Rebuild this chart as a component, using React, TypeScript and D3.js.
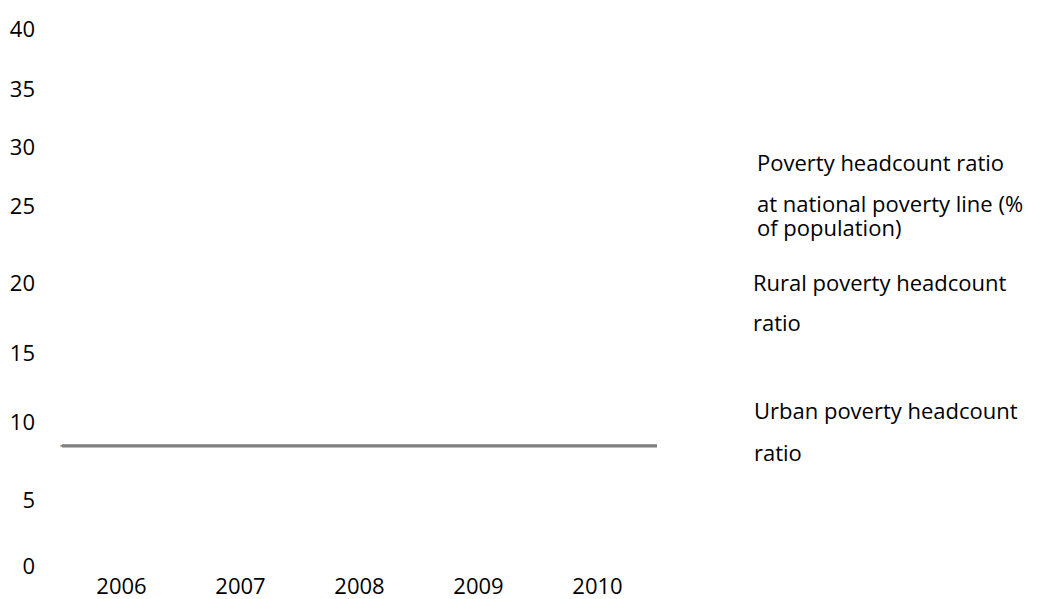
import * as d3 from "d3";

// poverty headcount chart, 2006-2010
// three series, all sitting on the same value so only the last one shows

const years = ["2006", "2007", "2008", "2009", "2010"];
const yTicks = [0, 5, 10, 15, 20, 25, 30, 35, 40];

const nationalValues = [8.4, 8.4, 8.4, 8.4, 8.4];
const ruralValues = [8.4, 8.4, 8.4, 8.4, 8.4];
const urbanValues = [8.4, 8.4, 8.4, 8.4, 8.4];

const legendNational = ["Poverty headcount ratio", "at national poverty line (%", "of population)"];
const legendRural = ["Rural poverty headcount", "ratio"];
const legendUrban = ["Urban poverty headcount", "ratio"];

const width = 1044;
const height = 599;
const font = "'Open Sans', sans-serif";
const fontSize = 22;

// the gridline spacing in the original isn't even, so the y scale is piecewise
const yRange = [565, 499, 421, 352, 282, 205, 146, 88, 28];

const App = () => {
  const x = d3.scaleBand<string>().domain(years).range([62, 657]);
  const y = d3.scaleLinear().domain(yTicks).range(yRange);

  // each year covers its whole band, so the line runs edge to edge
  const line = d3.line<[number, number]>((d) => d[0], (d) => d[1]);
  const pts = (vals: number[], pad: number): [number, number][] =>
    vals.flatMap((v, i) => [
      [x(years[i])! - (i === 0 ? pad : 0), y(v)] as [number, number],
      [x(years[i])! + x.bandwidth(), y(v)] as [number, number],
    ]);

  // red and green lie under the grey one, only their start pokes out
  const series = [
    { name: "national", vals: nationalValues, color: "#c0504d", dy: -0.6, w: 1, pad: 1.5 },
    { name: "rural", vals: ruralValues, color: "#9bbb59", dy: 0.6, w: 1, pad: 1.5 },
    { name: "urban", vals: urbanValues, color: "#808080", dy: 0, w: 3.2, pad: 0 },
  ];

  const legend = [
    { lines: legendNational, x: 757, ys: [162, 203, 227] },
    { lines: legendRural, x: 753, ys: [282, 322] },
    { lines: legendUrban, x: 754, ys: [410, 452] },
  ];

  return (
    <svg
      width={width}
      height={height}
      style={{ position: "absolute", left: 0, top: 0, background: "#fff" }}
      fontFamily={font}
      fontSize={fontSize}
    >
      <g>
        {yTicks.map((t) => (
          <text key={t} x={35} y={y(t)} textAnchor="end" dominantBaseline="central" fill="#000">
            {t}
          </text>
        ))}
      </g>
      <g>
        {years.map((yr) => (
          <text key={yr} x={x(yr)! + x.bandwidth() / 2} y={585} textAnchor="middle" dominantBaseline="central" fill="#000">
            {yr}
          </text>
        ))}
      </g>
      {series.map((s) => (
        <path
          key={s.name}
          d={line(pts(s.vals, s.pad))!}
          transform={`translate(0,${s.dy})`}
          fill="none"
          stroke={s.color}
          strokeWidth={s.w}
        />
      ))}
      {legend.map((l, i) => (
        <g key={i}>
          {l.lines.map((t, j) => (
            <text key={j} x={l.x} y={l.ys[j]} dominantBaseline="central" fill="#000">
              {t}
            </text>
          ))}
        </g>
      ))}
    </svg>
  );
};

export default App;
